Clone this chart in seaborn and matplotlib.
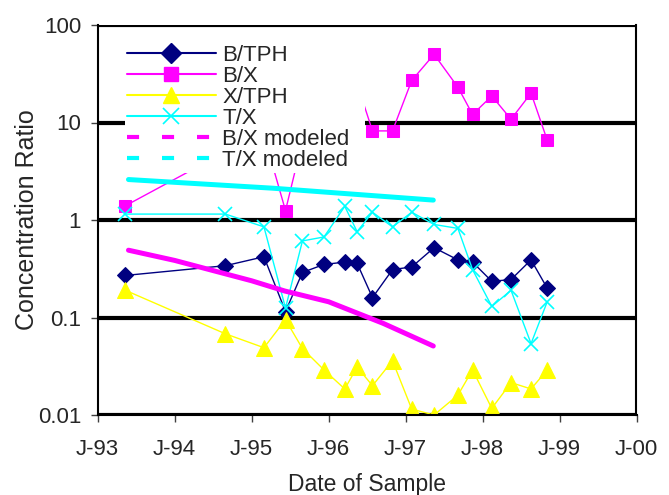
import numpy as np
import pandas as pd
import matplotlib
matplotlib.use('Agg')
import matplotlib.pyplot as plt
import seaborn as sns
from matplotlib.lines import Line2D
from matplotlib.ticker import FixedLocator, NullLocator, FixedFormatter

# --- data (decimal years) ---
dates = [1993.36, 1994.66, 1995.16, 1995.44, 1995.66, 1995.94, 1996.21, 1996.37, 1996.57,
         1996.83, 1997.08, 1997.37, 1997.68, 1997.87, 1998.12, 1998.37, 1998.63, 1998.84]
b_tph = [0.27, 0.34, 0.42, 0.115, 0.29, 0.35, 0.37, 0.36, 0.16,
         0.31, 0.33, 0.52, 0.39, 0.37, 0.235, 0.245, 0.39, 0.20]
b_x = [1.4, 5.0, 7.4, 1.25, 6.5, 12.0, 15.0, 25.0, 8.2,
       8.2, 27.0, 50.0, 23.0, 12.1, 18.7, 10.8, 20.0, 6.6]
x_tph = [0.19, 0.068, 0.049, 0.095, 0.048, 0.029, 0.0185, 0.031, 0.020,
         0.036, 0.0115, 0.010, 0.016, 0.029, 0.0117, 0.0215, 0.0185, 0.029]
t_x = [1.15, 1.15, 0.85, 0.125, 0.61, 0.67, 1.38, 0.76, 1.2,
       0.85, 1.2, 0.9, 0.82, 0.31, 0.13, 0.19, 0.054, 0.145]

model_dates_bx = [1993.40, 1994.0, 1995.0, 1995.43, 1996.0, 1996.71, 1997.36]
bx_model = [0.49, 0.385, 0.238, 0.187, 0.145, 0.087, 0.051]
model_dates_tx = [1993.40, 1995.27, 1997.36]
tx_model = [2.6, 2.12, 1.6]

year_ticks = [1993, 1994, 1995, 1996, 1997, 1998, 1999, 2000]
year_labels = ['J-93', 'J-94', 'J-95', 'J-96', 'J-97', 'J-98', 'J-99', 'J-00']
y_ticks = [0.01, 0.1, 1, 10, 100]
y_labels = ['0.01', '0.1', '1', '10', '100']

navy, magenta, yellow, cyan = '#000080', '#FF00FF', '#FFFF00', '#00FFFF'

sns.set_style('white')
plt.rcParams['font.family'] = ['Liberation Sans', 'DejaVu Sans']

fig = plt.figure(figsize=(6.69, 4.95), dpi=100)
ax = fig.add_axes([97.7 / 669, 1 - 415 / 495, (636.5 - 97.7) / 669, (415 - 25) / 495])

sns.lineplot(x=dates, y=b_tph, ax=ax, color=navy, lw=1.0, marker='D', ms=8.5,
             mec=navy, mfc=navy, sort=False, legend=False)
sns.lineplot(x=dates, y=b_x, ax=ax, color=magenta, lw=1.0, marker='s', ms=8.5,
             mec=magenta, mfc=magenta, sort=False, legend=False)
sns.lineplot(x=dates, y=x_tph, ax=ax, color=yellow, lw=1.0, marker='^', ms=11,
             mec=yellow, mfc=yellow, sort=False, legend=False)
sns.lineplot(x=dates, y=t_x, ax=ax, color=cyan, lw=1.0, marker='x', ms=10,
             mec=cyan, mew=1.2, sort=False, legend=False)
sns.lineplot(x=model_dates_bx, y=bx_model, ax=ax, color=magenta, lw=3.6,
             sort=False, legend=False)
sns.lineplot(x=model_dates_tx, y=tx_model, ax=ax, color=cyan, lw=3.6,
             sort=False, legend=False)

ax.set_yscale('log')
ax.set_ylim(0.01, 100)
ax.set_xlim(1993, 2000)
ax.yaxis.set_major_locator(FixedLocator(y_ticks))
ax.yaxis.set_major_formatter(FixedFormatter(y_labels))
ax.yaxis.set_minor_locator(NullLocator())
ax.xaxis.set_major_locator(FixedLocator(year_ticks))
ax.xaxis.set_major_formatter(FixedFormatter(year_labels))

ax.set_axisbelow(True)
ax.yaxis.grid(True, color='black', lw=3.0)
ax.xaxis.grid(False)
ax.spines['top'].set_visible(False)
for s in ['left', 'bottom', 'right']:
    ax.spines[s].set_color('black')
    ax.spines[s].set_linewidth(1.5)

ax.tick_params(axis='both', which='major', direction='out', length=5, width=1,
               color='#404040', labelsize=16, left=True, bottom=True)
ax.tick_params(axis='x', pad=12)
ax.tick_params(axis='y', pad=7)

ax.set_xlabel('Date of Sample', fontsize=16.5, labelpad=10)
ax.set_ylabel('Concentration Ratio', fontsize=18, labelpad=-1)

# legend: modeled curves shown dashed, as in the original sheet
handles = [
    Line2D([], [], color=navy, lw=1.5, marker='D', ms=10, mec=navy),
    Line2D([], [], color=magenta, lw=1.5, marker='s', ms=10, mec=magenta),
    Line2D([], [], color=yellow, lw=1.5, marker='^', ms=12, mec=yellow),
    Line2D([], [], color=cyan, lw=1.5, marker='x', ms=12, mec=cyan, mew=1.2),
    Line2D([], [], color=magenta, lw=3.0, dashes=(2.9, 5.5), dash_capstyle='butt'),
    Line2D([], [], color=cyan, lw=3.0, dashes=(2.9, 5.5), dash_capstyle='butt'),
]
labels = ['B/TPH', 'B/X', 'X/TPH', 'T/X', 'B/X modeled', 'T/X modeled']
leg = ax.legend(handles=handles, labels=labels, loc='upper left',
                bbox_to_anchor=(0.05, 0.955, 0.446, 0.0), mode='expand',
                fontsize=16, frameon=True, fancybox=False, framealpha=1,
                facecolor='white', edgecolor='white', handlelength=4.0,
                handletextpad=0.3, labelspacing=0.0, borderpad=0.1,
                borderaxespad=0)
leg.get_frame().set_linewidth(0)

fig.savefig('out.png', dpi=100)
